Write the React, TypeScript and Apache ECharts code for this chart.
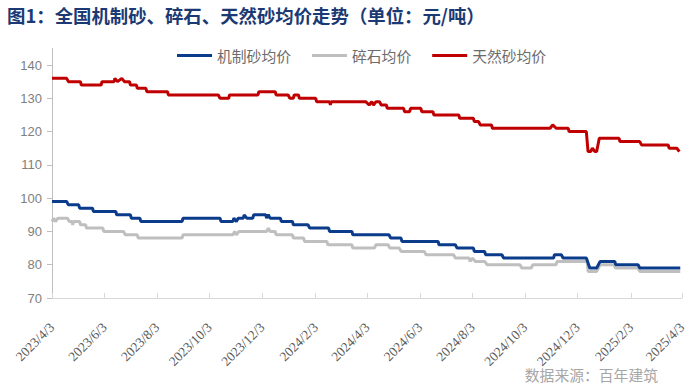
import React, { useEffect, useRef } from "react";
import * as echarts from "echarts";

const TITLE = "图1：全国机制砂、碎石、天然砂均价走势（单位：元/吨）";
const SOURCE = "数据来源：百年建筑";
const SERIES_NAMES = ["机制砂均价", "碎石均价", "天然砂均价"];
const SERIES_COLORS = ["#0b3c8c", "#bfbfbf", "#c00000"];

const FIRST_DAY = "2023/4/3";
const LAST_DAY = "2025/4/3";
const X_TICK_LABELS = [
  "2023/4/3", "2023/6/3", "2023/8/3", "2023/10/3", "2023/12/3", "2024/2/3", "2024/4/3",
  "2024/6/3", "2024/8/3", "2024/10/3", "2024/12/3", "2025/2/3", "2025/4/3",
];
const Y_TICKS = [70, 80, 90, 100, 110, 120, 130, 140];

const machineSand: [string, number][] = [
  ["2023/4/3", 99], ["2023/4/20", 99], ["2023/4/22", 98], ["2023/5/4", 98], ["2023/5/5", 97],
  ["2023/5/20", 97], ["2023/5/21", 96], ["2023/6/16", 96], ["2023/6/17", 95], ["2023/7/3", 95],
  ["2023/7/4", 94], ["2023/7/14", 94], ["2023/7/15", 93], ["2023/9/1", 93], ["2023/9/2", 94],
  ["2023/10/15", 94], ["2023/10/16", 93], ["2023/10/30", 93], ["2023/10/31", 94], ["2023/11/3", 93],
  ["2023/11/5", 94], ["2023/11/11", 94], ["2023/11/12", 95], ["2023/11/15", 94], ["2023/11/22", 94],
  ["2023/11/23", 95], ["2023/12/7", 95], ["2023/12/8", 94], ["2023/12/10", 95], ["2023/12/12", 94],
  ["2023/12/24", 94], ["2023/12/25", 93], ["2024/1/7", 93], ["2024/1/8", 92], ["2024/1/25", 92],
  ["2024/1/27", 91], ["2024/2/18", 91], ["2024/2/19", 90], ["2024/3/16", 90], ["2024/3/17", 89],
  ["2024/4/28", 89], ["2024/4/30", 88], ["2024/5/12", 88], ["2024/5/13", 87], ["2024/6/24", 87],
  ["2024/6/25", 86], ["2024/7/14", 86], ["2024/7/16", 85], ["2024/8/4", 85], ["2024/8/5", 84],
  ["2024/8/17", 84], ["2024/8/18", 83], ["2024/9/6", 83], ["2024/9/8", 82], ["2024/11/5", 82],
  ["2024/11/6", 83], ["2024/11/14", 83], ["2024/11/16", 82], ["2024/12/13", 82], ["2024/12/17", 79],
  ["2024/12/25", 79], ["2024/12/29", 81], ["2025/1/15", 81], ["2025/1/16", 80], ["2025/2/11", 80],
  ["2025/2/13", 79], ["2025/4/1", 79],
];

const gravel: [string, number][] = [
  ["2023/4/3", 93], ["2023/4/5", 94], ["2023/4/7", 93], ["2023/4/10", 94], ["2023/4/21", 94],
  ["2023/4/23", 93], ["2023/4/26", 93], ["2023/4/27", 92], ["2023/4/28", 93], ["2023/5/5", 93],
  ["2023/5/6", 92], ["2023/5/12", 92], ["2023/5/13", 91], ["2023/6/1", 91], ["2023/6/2", 90],
  ["2023/6/25", 90], ["2023/6/27", 89], ["2023/7/11", 89], ["2023/7/12", 88], ["2023/9/1", 88],
  ["2023/9/2", 89], ["2023/10/30", 89], ["2023/11/1", 90], ["2023/11/3", 89], ["2023/11/6", 90],
  ["2023/12/8", 90], ["2023/12/10", 91], ["2023/12/12", 90], ["2023/12/18", 90], ["2023/12/19", 89],
  ["2024/1/7", 89], ["2024/1/8", 88], ["2024/1/20", 88], ["2024/1/21", 87], ["2024/2/16", 87],
  ["2024/2/17", 86], ["2024/3/16", 86], ["2024/3/17", 85], ["2024/4/11", 85], ["2024/4/13", 86],
  ["2024/4/27", 86], ["2024/4/29", 85], ["2024/5/10", 85], ["2024/5/12", 84], ["2024/6/8", 84],
  ["2024/6/10", 83], ["2024/7/12", 83], ["2024/7/14", 82], ["2024/7/30", 82], ["2024/7/31", 81],
  ["2024/8/3", 82], ["2024/8/6", 81], ["2024/8/17", 81], ["2024/8/20", 80], ["2024/9/27", 80],
  ["2024/9/29", 79], ["2024/10/10", 79], ["2024/10/12", 80], ["2024/11/8", 80], ["2024/11/9", 81],
  ["2024/12/14", 81], ["2024/12/15", 78], ["2024/12/25", 78], ["2024/12/29", 80], ["2025/1/14", 80],
  ["2025/1/16", 79], ["2025/2/11", 79], ["2025/2/13", 78], ["2025/4/1", 78],
];

const naturalSand: [string, number][] = [
  ["2023/4/3", 136], ["2023/4/20", 136], ["2023/4/22", 135], ["2023/5/6", 135], ["2023/5/7", 134],
  ["2023/5/30", 134], ["2023/5/31", 135], ["2023/6/14", 135], ["2023/6/15", 136], ["2023/6/18", 135],
  ["2023/6/23", 136], ["2023/6/26", 135], ["2023/7/2", 135], ["2023/7/3", 134], ["2023/7/10", 134],
  ["2023/7/11", 133], ["2023/7/21", 133], ["2023/7/22", 132], ["2023/8/15", 132], ["2023/8/16", 131],
  ["2023/10/13", 131], ["2023/10/15", 130], ["2023/10/25", 130], ["2023/10/26", 131], ["2023/11/28", 131],
  ["2023/11/29", 132], ["2023/12/18", 132], ["2023/12/19", 131], ["2024/1/2", 131], ["2024/1/4", 130],
  ["2024/1/8", 130], ["2024/1/9", 131], ["2024/1/14", 131], ["2024/1/15", 130], ["2024/2/3", 130],
  ["2024/2/4", 129], ["2024/2/19", 129], ["2024/2/20", 128], ["2024/2/21", 129], ["2024/4/1", 129],
  ["2024/4/5", 128], ["2024/4/8", 129], ["2024/4/10", 128], ["2024/4/13", 129], ["2024/4/17", 129],
  ["2024/4/19", 128], ["2024/4/25", 128], ["2024/4/26", 127], ["2024/5/15", 127], ["2024/5/16", 126],
  ["2024/5/22", 126], ["2024/5/23", 127], ["2024/6/4", 127], ["2024/6/5", 126], ["2024/6/18", 126],
  ["2024/6/19", 125], ["2024/7/18", 125], ["2024/7/19", 124], ["2024/8/4", 124], ["2024/8/5", 123],
  ["2024/8/10", 123], ["2024/8/12", 122], ["2024/8/25", 122], ["2024/8/26", 121], ["2024/11/1", 121],
  ["2024/11/4", 122], ["2024/11/8", 121], ["2024/11/22", 121], ["2024/11/23", 120], ["2024/12/13", 120],
  ["2024/12/15", 114], ["2024/12/18", 114], ["2024/12/20", 115], ["2024/12/23", 114], ["2024/12/25", 114],
  ["2024/12/28", 118], ["2025/1/20", 118], ["2025/1/21", 117], ["2025/2/13", 117], ["2025/2/15", 116],
  ["2025/3/18", 116], ["2025/3/19", 115], ["2025/3/28", 115], ["2025/3/31", 114],
];

function parseDay(s: string): number {
  const [y, m, d] = s.split("/").map(Number);
  return Date.UTC(y, m - 1, d);
}
function fmtDay(t: number): string {
  const d = new Date(t);
  return `${d.getUTCFullYear()}/${d.getUTCMonth() + 1}/${d.getUTCDate()}`;
}
function buildDays(): string[] {
  const out: string[] = [];
  const end = parseDay(LAST_DAY);
  for (let t = parseDay(FIRST_DAY); t <= end; t += 86400000) out.push(fmtDay(t));
  return out;
}

export default function App() {
  const ref = useRef<HTMLDivElement>(null);
  useEffect(() => {
    if (!ref.current) return;
    const chart = echarts.init(ref.current, undefined, { renderer: "svg" });
    const days = buildDays();
    const tickSet = new Set(X_TICK_LABELS);
    const showTick = (_i: number, v: string) => tickSet.has(v);
    const seriesData = [machineSand, gravel, naturalSand];
    chart.setOption({
      animation: false,
      backgroundColor: "#ffffff",
      title: {
        text: TITLE,
        left: 7,
        top: 6,
        padding: 0,
        textStyle: {
          fontSize: 18.4,
          fontWeight: "bold",
          color: "#1b3a74",
          fontFamily: "Noto Sans CJK SC",
        },
      },
      legend: {
        left: 177,
        top: 48,
        padding: 0,
        icon: "rect",
        itemWidth: 35,
        itemHeight: 3,
        itemGap: 21,
        data: SERIES_NAMES,
        textStyle: { fontSize: 14.8, color: "#6b6b6b", fontFamily: "Noto Sans CJK SC" },
      },
      grid: { left: 52, right: 10, top: 48.4, bottom: 87 },
      xAxis: {
        type: "category",
        data: days,
        boundaryGap: false,
        axisLine: { show: true, lineStyle: { color: "#d9d9d9", width: 1 } },
        axisTick: {
          show: true,
          inside: true,
          length: 5,
          interval: showTick,
          lineStyle: { color: "#d9d9d9" },
        },
        axisLabel: {
          interval: showTick,
          rotate: 45,
          margin: 27,
          fontSize: 13.5,
          color: "#595959",
          fontFamily: "Liberation Serif",
        },
        splitLine: { show: false },
      },
      yAxis: {
        type: "value",
        min: 70,
        max: 145,
        interval: 10,
        axisLine: { show: true, lineStyle: { color: "#bfbfbf", width: 1 } },
        axisTick: { show: true, length: 5, customValues: Y_TICKS, lineStyle: { color: "#bfbfbf" } },
        axisLabel: {
          customValues: Y_TICKS,
          margin: 10,
          fontSize: 13,
          color: "#808080",
          fontFamily: "Liberation Sans",
        },
        splitLine: { show: false },
      },
      graphic: [
        {
          type: "text",
          right: 34,
          top: 367,
          style: {
            text: SOURCE,
            fontSize: 14.8,
            fill: "#a6a6a6",
            fontFamily: "Noto Sans CJK SC",
          },
        },
      ],
      series: SERIES_NAMES.map((name, i) => ({
        name,
        type: "line",
        data: seriesData[i],
        showSymbol: false,
        symbol: "none",
        z: i === 0 ? 4 : i === 2 ? 5 : 3,
        color: SERIES_COLORS[i],
        lineStyle: { width: 3, color: SERIES_COLORS[i] },
      })),
    });
    return () => chart.dispose();
  }, []);
  return (
    <div
      ref={ref}
      style={{ position: "fixed", left: 0, top: 0, width: 692, height: 385 }}
    />
  );
}
